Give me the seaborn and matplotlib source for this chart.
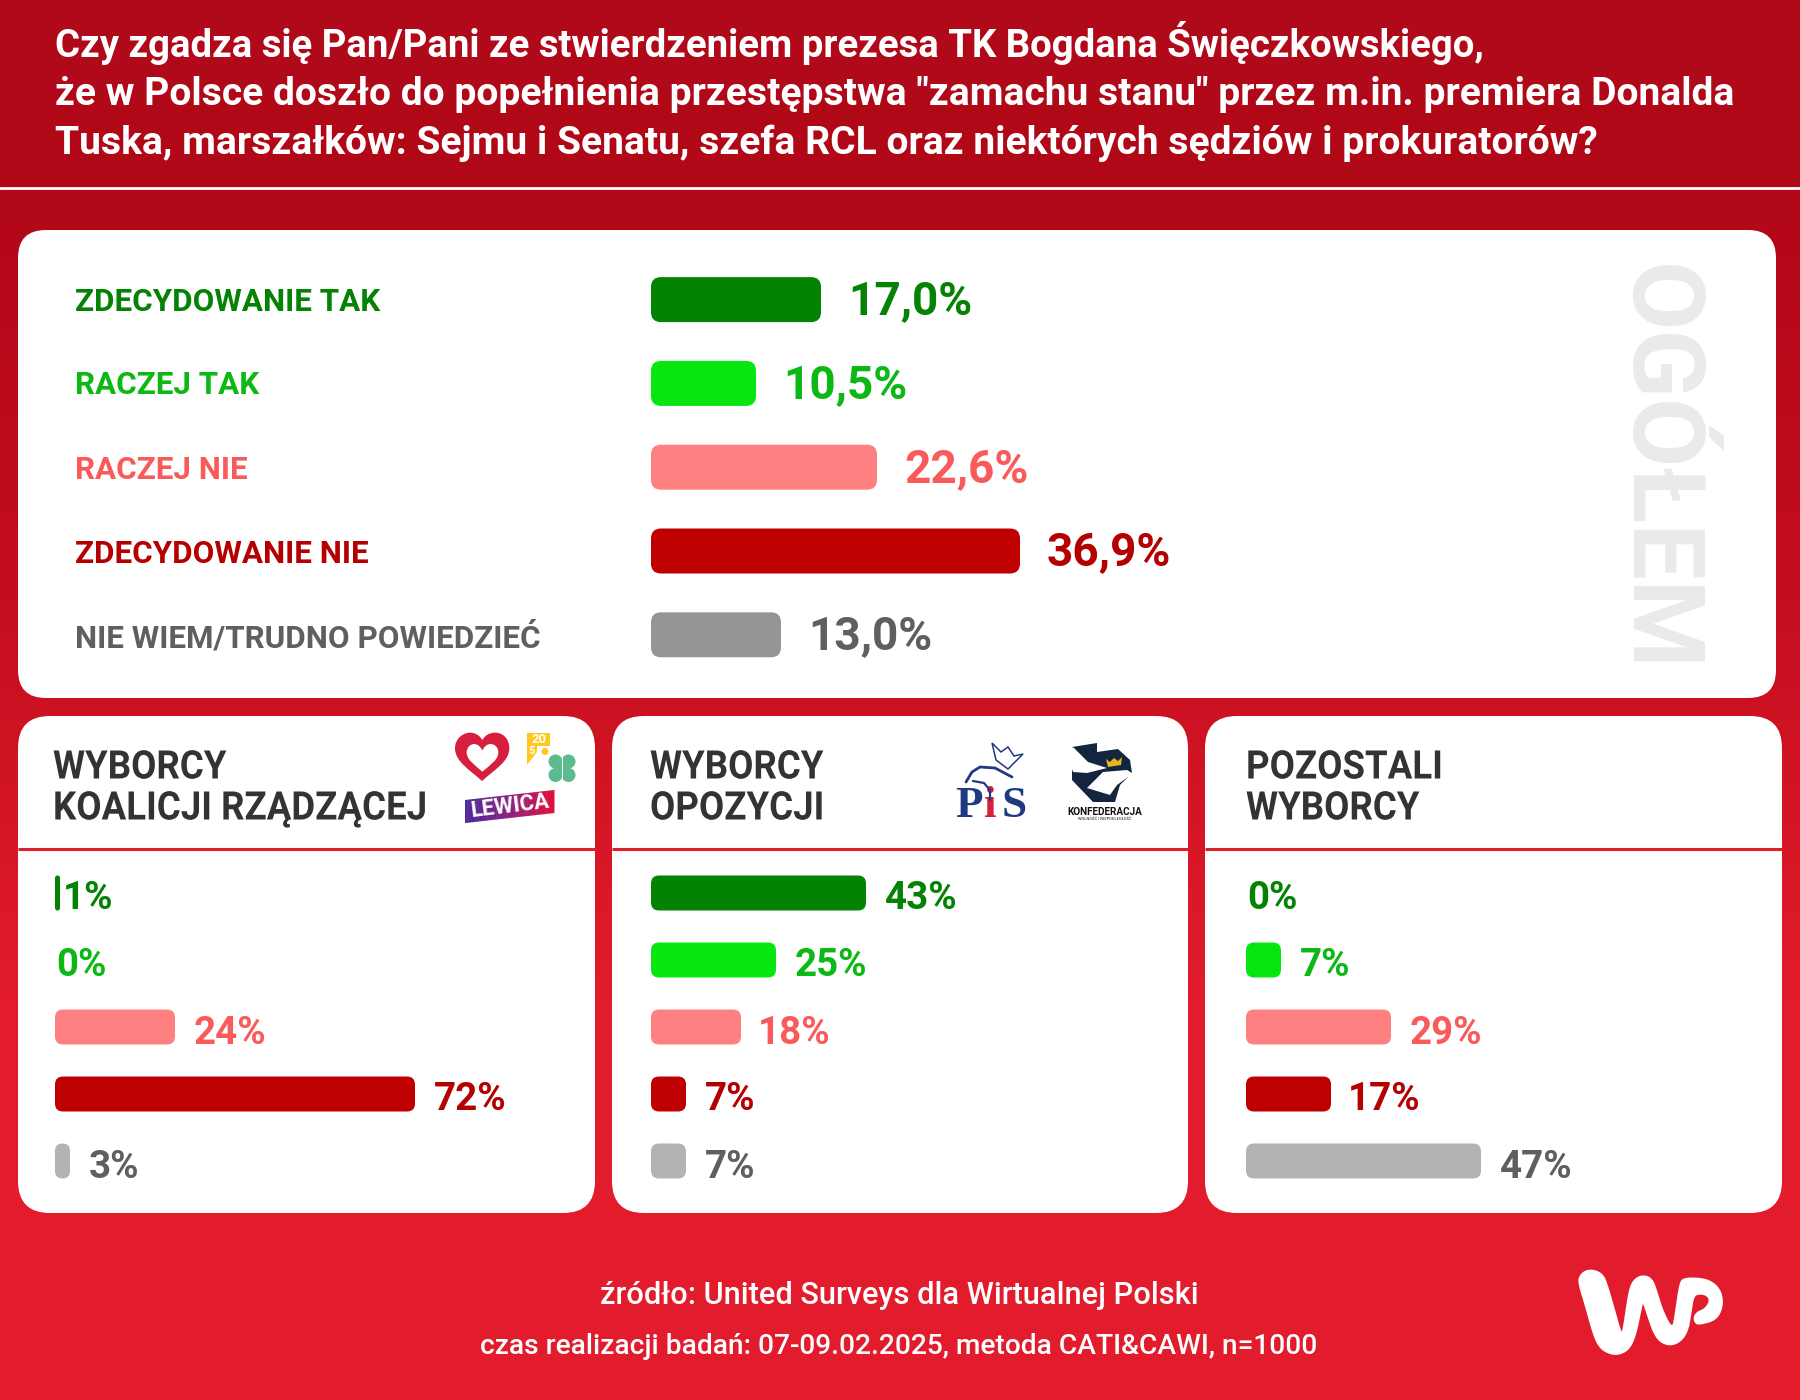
import numpy as np
import seaborn as sns
import matplotlib.pyplot as plt
from matplotlib.patches import FancyBboxPatch, PathPatch, Circle, Polygon
from matplotlib.patheffects import AbstractPathEffect
from matplotlib.path import Path
from matplotlib.transforms import Affine2D

sns.set_theme(style='white')
plt.rcParams['font.family'] = ['Roboto', 'DejaVu Sans']

W, H = 1800, 1400

title_lines = [
    'Czy zgadza się Pan/Pani ze stwierdzeniem prezesa TK Bogdana Święczkowskiego,',
    'że w Polsce doszło do popełnienia przestępstwa "zamachu stanu" przez m.in. premiera Donalda',
    'Tuska, marszałków: Sejmu i Senatu, szefa RCL oraz niektórych sędziów i prokuratorów?',
]
categories = ['ZDECYDOWANIE TAK', 'RACZEJ TAK', 'RACZEJ NIE', 'ZDECYDOWANIE NIE', 'NIE WIEM/TRUDNO POWIEDZIEĆ']
overall = [17.0, 10.5, 22.6, 36.9, 13.0]
coalition = [1, 0, 24, 72, 3]
opposition = [43, 25, 18, 7, 7]
others = [0, 7, 29, 17, 47]
group_titles = ['WYBORCY\nKOALICJI RZĄDZĄCEJ', 'WYBORCY\nOPOZYCJI', 'POZOSTALI\nWYBORCY']
source_lines = ['źródło: United Surveys dla Wirtualnej Polski',
                'czas realizacji badań: 07-09.02.2025, metoda CATI&CAWI, n=1000']

bar_top = ['#048204', '#08E610', '#FF8080', '#BE0000', '#959595']
bar_low = ['#048204', '#08E610', '#FF8080', '#BE0000', '#B3B3B3']
text_cols = ['#048204', '#0CB814', '#F95B5B', '#B40000', '#5F5F5F']

wp_outline = [(235, 125), (243, 103), (262, 91), (285, 92), (306, 103), (318, 125), (340, 200), (365, 290),
              (372, 260), (385, 170), (395, 130), (415, 110), (440, 108), (458, 122), (468, 150), (490, 220),
              (518, 270), (527, 220), (540, 130), (552, 115), (600, 115), (635, 125), (660, 150), (668, 185),
              (660, 220), (640, 242), (600, 252), (588, 250), (582, 235), (590, 218), (615, 208), (630, 185),
              (625, 168), (605, 160), (580, 165), (572, 220), (562, 275), (540, 305), (510, 316), (480, 305),
              (460, 275), (440, 215), (428, 180), (420, 220), (405, 290), (385, 330), (350, 345), (315, 335),
              (295, 315), (280, 280), (255, 190)]
heart_outer = [(126, 183), (90, 150), (45, 125), (45, 85), (45, 55), (70, 38), (90, 38), (108, 38), (120, 48),
               (127, 60), (134, 48), (146, 38), (165, 38), (188, 38), (208, 55), (208, 85), (208, 125), (162, 150),
               (126, 183)]
heart_inner = [(127, 155), (105, 135), (80, 120), (80, 97), (80, 82), (92, 72), (102, 72), (113, 72), (122, 80),
               (127, 92), (132, 80), (141, 72), (152, 72), (165, 72), (175, 83), (175, 97), (175, 120), (150, 135),
               (127, 155)]


class Squeeze(AbstractPathEffect):
    # the heading font is a condensed one, so narrow the glyphs around the left edge
    def __init__(self, x0, sx):
        super().__init__()
        self.x0, self.sx = x0, sx

    def draw_path(self, renderer, gc, tpath, affine, rgbFace=None):
        squeezed = affine + Affine2D().translate(-self.x0, 0).scale(self.sx, 1).translate(self.x0, 0)
        renderer.draw_path(gc, tpath, squeezed, rgbFace)


def px(size):
    # font size in pixels -> points
    return size * 72 / 100


def panel(bg, x0, y0, x1, y1, r):
    bg.add_patch(FancyBboxPatch((x0, y0), x1 - x0, y1 - y0, boxstyle=f'round,pad=0,rounding_size={r}',
                                fc='white', ec='none', zorder=2))


def bars(fig, bg, values, colors, x0, centers, height, scale, radius, font, gap, dy):
    step = centers[1] - centers[0]
    top = centers[0] - step / 2
    ax = fig.add_axes([x0 / W, 1 - (top + step * 5) / H, 100 * scale / W, step * 5 / H])
    sns.barplot(x=values, y=categories, hue=categories, palette=colors, dodge=False, legend=False,
                width=height / step, orient='h', saturation=1, ax=ax)
    ax.set_xlim(0, 100)
    ax.set_ylim(4.5, -0.5)
    ax.axis('off')
    # seaborn bars are square, swap them for rounded ones of the same size
    for bar in list(ax.patches):
        (a, b), (c, d) = ax.transData.transform(bar.get_bbox().get_points())
        w = abs(c - a)
        bar.set_visible(False)
        if w == 0:
            continue
        r = min(radius, w / 2 - 0.01)
        bg.add_patch(FancyBboxPatch((min(a, c), H - max(b, d)), w, abs(d - b),
                                    boxstyle=f'round,pad=0,rounding_size={r}',
                                    fc=bar.get_facecolor(), ec='none', zorder=3))
    for i, v in enumerate(values):
        off = gap if v > 1 else (3 if v == 1 else 1)
        if isinstance(v, float):
            txt = f'{v:.1f}%'.replace('.', ',')
        else:
            txt = f'{v}%'
            if 10 <= v < 20:
                off -= 2
        ax.annotate(txt, (v, i), xytext=(px(off), px(dy)), textcoords='offset points', va='center_baseline',
                    ha='left', color=text_cols[i], fontsize=px(font), fontweight='bold')
    return ax


def crop_pts(points, x0, y0):
    return [(x0 + x / 3, y0 + y / 3) for x, y in points]


def chaikin(pts, rounds=2):
    # round off the corners of a closed outline
    p = np.array(pts, float)
    for _ in range(rounds):
        q = np.roll(p, -1, axis=0)
        p = np.c_[0.75 * p + 0.25 * q, 0.25 * p + 0.75 * q].reshape(-1, 2)
    return p


def logos(bg):
    # heart
    for outline, col in ((heart_outer, '#D81E3F'), (heart_inner, 'white')):
        codes = [Path.MOVETO] + [Path.CURVE4] * (len(outline) - 1)
        bg.add_patch(PathPatch(Path(crop_pts(outline, 440, 720), codes), fc=col, ec='none', zorder=4))
    # 2050 mark
    bg.add_patch(Polygon([(527, 733), (550, 733), (550, 746), (537, 746), (537, 752), (527, 765)],
                         fc='#FFC81E', ec='none', zorder=4))
    bg.text(538.5, 739.5, '20', color='white', fontsize=px(13), fontweight='bold', ha='center', va='center', zorder=5)
    bg.text(532, 751, '5', color='white', fontsize=px(11), fontweight='bold', ha='center', va='center', zorder=5)
    bg.add_patch(Circle((545, 751.5), 3.5, fc='#FFC81E', ec='none', zorder=4))
    # clover
    for cx, cy in ((555.5, 761.5), (568.5, 761.5), (555.5, 775), (568.5, 775)):
        bg.add_patch(Circle((cx, cy), 7, fc='#5CBB8E', ec='none', zorder=4))
    bg.add_patch(Circle((562, 768), 8, fc='#5CBB8E', ec='none', zorder=4))
    bg.plot([562, 562], [756, 780], color='white', lw=0.7, zorder=5)
    # Lewica
    n = 40
    xs = np.linspace(465, 554, n + 1)
    grad = sns.blend_palette(['#4E2A9A', '#8A2384', '#E0103C'], n)
    for i in range(n):
        y_top = 800 - (xs[i] - 465) * 10 / 89
        y_top2 = 800 - (xs[i + 1] - 465) * 10 / 89
        bg.add_patch(Polygon([(xs[i], y_top), (xs[i + 1] + .5, y_top2), (xs[i + 1] + .5, y_top2 + 23), (xs[i], y_top + 23)],
                             fc=grad[i], ec='none', zorder=4))
    bg.text(510, 806, 'LEWICA', color='white', fontsize=px(22), fontweight='bold', rotation=7,
            ha='center', va='center', rotation_mode='anchor', zorder=5)
    # PiS
    for x, s, col in ((955, 'P', '#1F3A82'), (984, 'i', '#D81E3F'), (1002, 'S', '#1F3A82')):
        bg.text(x, 817, s, color=col, family='Liberation Serif', fontsize=px(45), fontweight='bold',
                ha='left', va='baseline', zorder=5)
    bg.plot([966, 972, 980, 995, 1012], [782, 772, 767, 768, 777], color='#1F3A82', lw=2, zorder=5,
            solid_capstyle='round', solid_joinstyle='round')
    bg.plot([973, 984, 990, 990], [781, 783, 790, 800], color='#1F3A82', lw=1.6, zorder=5)
    crown = [(992, 743), (1001, 752), (1008, 747), (1014, 756), (1023, 754), (1008, 769), (996, 760)]
    bg.add_patch(Polygon(crown, fc='none', ec='#1F3A82', lw=1.1, zorder=5))
    # Konfederacja
    bg.add_patch(Polygon([(1072, 747), (1097, 743), (1097, 752), (1118, 749), (1130, 760), (1132, 773), (1120, 785),
                          (1115, 802), (1093, 802), (1072, 780)], fc='#14263F', ec='none', zorder=4))
    bg.add_patch(Polygon([(1087, 788), (1103, 772), (1127, 770), (1142, 779), (1128, 777), (1117, 785), (1110, 795)],
                         fc='white', ec='none', zorder=5))
    bg.add_patch(Polygon([(1067, 753), (1073, 747), (1088, 762), (1107, 768), (1087, 773), (1073, 772)],
                         fc='white', ec='none', zorder=5))
    bg.add_patch(Polygon([(1106, 759), (1110, 762), (1114, 758), (1118, 761), (1122, 757), (1121, 765), (1108, 767)],
                         fc='#E7B71C', ec='none', zorder=6))
    bg.text(1105, 812, 'KONFEDERACJA', color='#111111', fontsize=px(10), fontweight='bold', ha='center', va='center', zorder=5)
    bg.text(1105, 819, 'WOLNOŚĆ I NIEPODLEGŁOŚĆ', color='#111111', fontsize=px(4), ha='center', va='center', zorder=5)


def wp_logo(bg):
    pts = chaikin(crop_pts(wp_outline, 1500, 1240))
    bg.add_patch(Polygon(pts, fc='white', ec='white', lw=1.2, joinstyle='round', zorder=4))


fig = plt.figure(figsize=(18, 14), dpi=100)
bg = fig.add_axes([0, 0, 1, 1])

grad = np.zeros((H, 1, 3))
stops_y = [0, 190, 600, 1000, 1400]
stops = np.array([[176, 10, 26], [178, 8, 24], [196, 14, 30], [226, 28, 44], [226, 28, 44]], float)
for c in range(3):
    grad[:, 0, c] = np.interp(np.arange(H), stops_y, stops[:, c]) / 255
bg.imshow(grad, extent=[0, W, H, 0], aspect='auto', zorder=0)
bg.set_xlim(0, W)
bg.set_ylim(H, 0)
bg.axis('off')

bg.plot([0, W], [188, 188], color='white', lw=2, zorder=1)
for line, y, size in zip(title_lines, [57, 105, 154.5], [38.35, 39.05, 39.05]):
    bg.text(55, y, line, color='white', fontsize=px(size), fontweight='bold', va='baseline', zorder=3)

panel(bg, 18, 230, 1776, 698, 28)
panel(bg, 18, 716, 595, 1213, 32)
panel(bg, 612, 716, 1188, 1213, 32)
panel(bg, 1205, 716, 1782, 1213, 32)
for x0, x1 in ((18, 595), (612, 1188), (1205, 1782)):
    bg.plot([x0, x1], [849, 849], color='#DC1E2E', lw=2.2, solid_capstyle='butt', zorder=3)

label_y = [299, 382, 467, 551, 635]
for lab, y, col in zip(categories, label_y, text_cols):
    bg.text(75, y, lab, color=col, fontsize=px(31.4), fontweight='bold', va='center_baseline', zorder=3)

bg.text(1656, 468, 'OGÓŁEM', color='#EAEAEA', fontsize=px(100.5), fontweight='bold', rotation=-90,
        ha='center', va='center', zorder=3)

heads_x = [53, 650, 1246]
for txt, x in zip(group_titles, heads_x):
    for part, y in zip(txt.split('\n'), [764, 805]):
        t = bg.text(x, y, part, color='#333333', fontsize=px(39.4), fontweight='bold',
                    va='center_baseline', zorder=3)
        t.set_path_effects([Squeeze(x, 0.93)])

logos(bg)
wp_logo(bg)

bg.text(899, 1293, source_lines[0], color='white', fontsize=px(30.8), fontweight='medium', ha='center', va='center_baseline', zorder=3)
bg.text(899, 1344, source_lines[1], color='white', fontsize=px(28.1), fontweight='medium', ha='center', va='center_baseline', zorder=3)

top_centers = [299.6, 383.4, 467.2, 551, 634.8]
low_centers = [893, 960, 1027, 1093, 1160]
bars(fig, bg, overall, bar_top, 651, top_centers, 45, 10.0, 10, 46, 27, 3)
bars(fig, bg, coalition, bar_low, 55, low_centers, 35, 5.0, 8, 38.5, 19, -2)
bars(fig, bg, opposition, bar_low, 651, low_centers, 35, 5.0, 8, 38.5, 19, -2)
bars(fig, bg, others, bar_low, 1246, low_centers, 35, 5.0, 8, 38.5, 19, -2)

fig.savefig('out.png', dpi=100)
